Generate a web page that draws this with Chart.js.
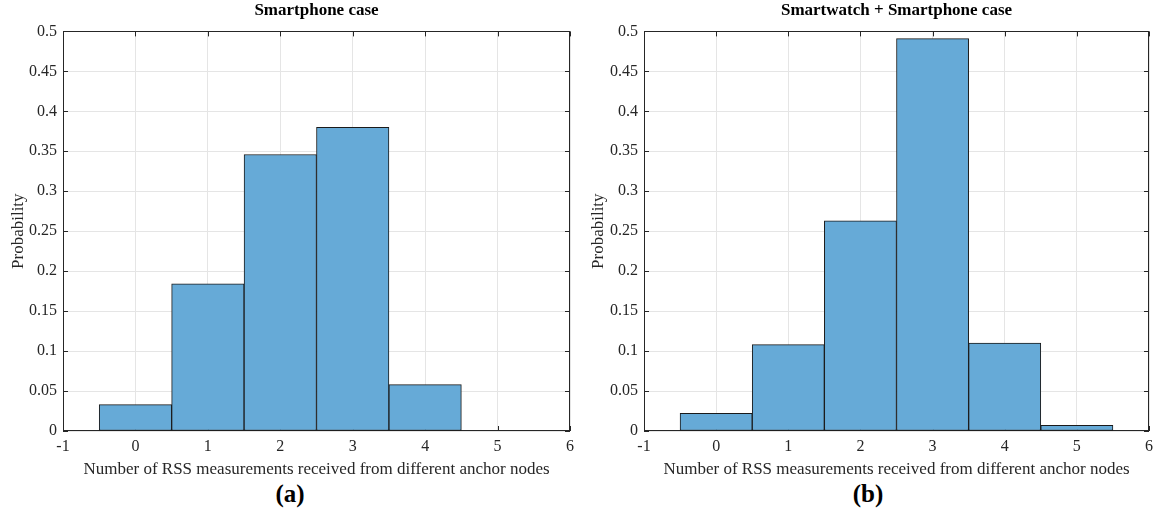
<!DOCTYPE html>
<html>
<head>
<meta charset="utf-8">
<script src="https://cdn.jsdelivr.net/npm/chart.js@4.4.0/dist/chart.umd.min.js"></script>
<style>
body{margin:0;background:#fff;width:1153px;height:515px;overflow:hidden;position:relative;font-family:"Liberation Serif",serif}
.box{position:absolute;top:0;height:480px}
.lab{position:absolute;top:480px;font-weight:bold;font-size:25px;transform:translateX(-50%);color:#000}
</style>
</head>
<body>
<div class="box" style="left:0;width:580px"><canvas id="chartA"></canvas></div>
<div class="box" style="left:580px;width:573px"><canvas id="chartB"></canvas></div>
<div class="lab" style="left:290px">(a)</div>
<div class="lab" style="left:868px">(b)</div>
<script>
// histogram bins (number of anchor nodes heard)
const bins = [0, 1, 2, 3, 4, 5]
const smartphone = [0.033, 0.184, 0.346, 0.380, 0.058, 0]
const smartwatchPhone = [0.022, 0.108, 0.263, 0.491, 0.110, 0.007]
const xTicks = [-1, 0, 1, 2, 3, 4, 5, 6]
const yTicks = [0, 0.05, 0.1, 0.15, 0.2, 0.25, 0.3, 0.35, 0.4, 0.45, 0.5]

const xLabel = 'Number of RSS measurements received from different anchor nodes'
const yLabel = 'Probability'
const textColor = '#262626'
const serif = '"Liberation Serif", "Times New Roman", serif'

// MATLAB style box around the axes, ticks pointing inwards (drawn under the bars)
const boxPlugin = {
	id: 'box',
	beforeDatasetsDraw(chart) {
		const ctx = chart.ctx
		const a = chart.chartArea
		const x = chart.scales.x
		const y = chart.scales.y
		ctx.save()
		ctx.strokeStyle = textColor
		ctx.lineWidth = 1
		ctx.strokeRect(Math.round(a.left) + 0.5, Math.round(a.top) + 0.5, Math.round(a.right - a.left) - 1, Math.round(a.bottom - a.top) - 1)
		ctx.beginPath()
		xTicks.forEach(v => {
			const px = Math.round(x.getPixelForValue(v)) + 0.5
			ctx.moveTo(px, a.bottom); ctx.lineTo(px, a.bottom - 5)
			ctx.moveTo(px, a.top); ctx.lineTo(px, a.top + 5)
		})
		yTicks.forEach(v => {
			const py = Math.round(y.getPixelForValue(v)) + 0.5
			ctx.moveTo(a.left, py); ctx.lineTo(a.left + 5, py)
			ctx.moveTo(a.right, py); ctx.lineTo(a.right - 5, py)
		})
		ctx.stroke()
		ctx.restore()
	}
}

function makeChart(id, title, values, yWidth, padRight) {
	const ctx = document.getElementById(id).getContext('2d')
	return new Chart(ctx, {
		type: 'bar',
		data: {
			datasets: [{
				data: bins.map((b, i) => ({x: b, y: values[i]})),
				backgroundColor: 'rgb(102,170,215)',
				borderColor: '#1a1a1a',
				borderWidth: 1,
				borderSkipped: false,
				barPercentage: 1,
				categoryPercentage: 1,
			}]
		},
		options: {
			responsive: true,
			maintainAspectRatio: false,
			animation: false,
			layout: {padding: {left: 0, right: padRight, top: 0, bottom: 0}},
			plugins: {
				legend: {display: false},
				tooltip: {enabled: false},
				title: {
					display: true,
					text: title,
					fullSize: false,
					color: '#000',
					font: {family: serif, size: 17, weight: 'bold'},
					padding: {top: 0, bottom: 11}
				}
			},
			scales: {
				x: {
					type: 'linear',
					min: -1,
					max: 6,
					offset: false,
					afterFit: s => { s.height = 49; s.paddingRight = 0; s.paddingLeft = 0 },
					afterBuildTicks: s => { s.ticks = xTicks.map(v => ({value: v})) },
					grid: {color: '#e5e5e5', drawTicks: false, offset: false},
					border: {display: false},
					ticks: {color: textColor, padding: 6, font: {family: serif, size: 16}},
					title: {display: true, text: xLabel, color: textColor, font: {family: serif, size: 17}, padding: {top: 2, bottom: 0}}
				},
				y: {
					min: 0,
					max: 0.5,
					afterFit: s => { s.width = yWidth },
					afterBuildTicks: s => { s.ticks = yTicks.map(v => ({value: v})) },
					grid: {color: '#e5e5e5', drawTicks: false},
					border: {display: false},
					ticks: {color: textColor, padding: 6, font: {family: serif, size: 16}, callback: v => String(v)},
					title: {display: true, text: yLabel, color: textColor, font: {family: serif, size: 17}, padding: {top: 8, bottom: 0}}
				}
			}
		},
		plugins: [boxPlugin]
	})
}

makeChart('chartA', 'Smartphone case', smartphone, 63, 10)
makeChart('chartB', 'Smartwatch + Smartphone case', smartwatchPhone, 64, 4)
</script>
</body>
</html>
